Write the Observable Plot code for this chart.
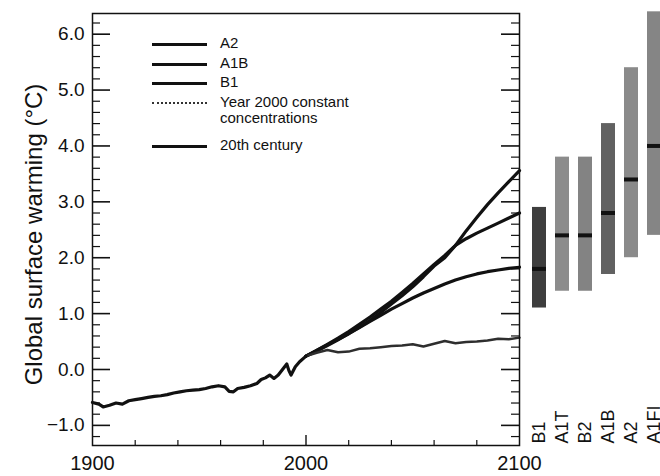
<!DOCTYPE html>
<html>
<head>
<meta charset="utf-8">
<script src="https://cdn.jsdelivr.net/npm/d3@7"></script>
<script src="https://cdn.jsdelivr.net/npm/@observablehq/plot@0.6"></script>
<style>
  html, body { margin: 0; padding: 0; background: #fff; }
  #wrap { position: relative; width: 660px; height: 476px; overflow: hidden; background: #fff;
          font-family: "Liberation Sans", Arial, sans-serif; color: #111; }
  #wrap svg { position: absolute; top: 0; }
  .leg { position: absolute; font-size: 15px; line-height: 16px; color: #111; }
  .sw { position: absolute; width: 55px; height: 0; border-top: 3px solid #111; }
</style>
</head>
<body>
<div id="wrap"></div>
<script>
// ---------- data ----------
const years20 = [1900,1903,1905,1908,1911,1914,1917,1920,1923,1926,1929,1932,1935,1938,1941,1944,1947,1950,1953,1956,1959,1962,1964,1966,1968,1971,1974,1977,1979,1981,1983,1985,1987,1989,1991,1992,1993,1995,1997,2000];
const temp20  = [-0.59,-0.62,-0.67,-0.64,-0.60,-0.62,-0.56,-0.54,-0.52,-0.50,-0.48,-0.47,-0.45,-0.42,-0.40,-0.38,-0.37,-0.36,-0.34,-0.31,-0.29,-0.31,-0.39,-0.40,-0.34,-0.32,-0.29,-0.25,-0.18,-0.15,-0.10,-0.16,-0.10,0.00,0.10,-0.02,-0.10,0.05,0.14,0.24];

const yearsScen = [2000,2005,2010,2015,2020,2025,2030,2035,2040,2045,2050,2055,2060,2065,2070,2075,2080,2085,2090,2095,2100];
const a2    = [0.24,0.33,0.43,0.53,0.64,0.76,0.88,1.02,1.17,1.32,1.48,1.66,1.85,2.00,2.22,2.48,2.72,2.95,3.16,3.36,3.56];
const a1b   = [0.24,0.34,0.45,0.56,0.68,0.81,0.94,1.08,1.22,1.38,1.54,1.71,1.88,2.04,2.22,2.34,2.44,2.53,2.62,2.71,2.80];
const b1    = [0.24,0.34,0.44,0.54,0.64,0.75,0.86,0.97,1.08,1.18,1.28,1.37,1.45,1.53,1.60,1.66,1.71,1.75,1.78,1.81,1.83];
const constC= [0.24,0.30,0.35,0.31,0.32,0.37,0.38,0.40,0.42,0.43,0.45,0.41,0.46,0.51,0.47,0.49,0.50,0.52,0.55,0.54,0.57];

const barNames = ["B1","A1T","B2","A1B","A2","A1FI"];
const barLow   = [1.1,1.4,1.4,1.7,2.0,2.4];
const barHigh  = [2.9,3.8,3.8,4.4,5.4,6.4];
const barBest  = [1.8,2.4,2.4,2.8,3.4,4.0];

const yMajor = [-1,0,1,2,3,4,5,6];
const yMinor = [-1.2,-0.8,-0.6,-0.4,-0.2,0.2,0.4,0.6,0.8,1.2,1.4,1.6,1.8,2.2,2.4,2.6,2.8,3.2,3.4,3.6,3.8,4.2,4.4,4.6,4.8,5.2,5.4,5.6,5.8,6.2];
const xLabels = [1900,2000,2100];
const xMinor = [1920,1940,1960,1980,2020,2040,2060,2080];
const yTitle = "Global surface warming (°C)";

const legendLabels = ["A2","A1B","B1","Year 2000 constant<br>concentrations","20th century"];

// ---------- tables ----------
const hist = years20.map((y,i) => ({year: y, t: temp20[i]}));
const scen = (arr) => yearsScen.map((y,i) => ({year: y, t: arr[i]}));
const bars = barNames.map((n,i) => ({name: n, lo: barLow[i], hi: barHigh[i], best: barBest[i]}));

const W = 520, H = 476, mL = 92, mR = 1, mT = 13, mB = 31;
const innerW = W - mL - mR;
const yDomain = [-1.36, 6.37];
const font = "Liberation Sans, Arial, sans-serif";

const main = Plot.plot({
  width: W, height: H,
  marginLeft: mL, marginRight: mR, marginTop: mT, marginBottom: mB,
  x: {domain: [1900, 2100]},
  y: {domain: yDomain},
  style: {background: "transparent", overflow: "visible", fontFamily: font, color: "#111"},
  marks: [
    Plot.line(scen(b1),  {x: "year", y: "t", stroke: "#111", strokeWidth: 3.2}),
    Plot.line(scen(a1b), {x: "year", y: "t", stroke: "#111", strokeWidth: 3.2}),
    Plot.line(scen(a2),  {x: "year", y: "t", stroke: "#111", strokeWidth: 3.2}),
    Plot.line(scen(constC), {x: "year", y: "t", stroke: "#2e2e2e", strokeWidth: 2.5}),
    Plot.line(hist, {x: "year", y: "t", stroke: "#111", strokeWidth: 3.2}),
    // inward ticks
    Plot.ruleY(yMajor, {insetRight: innerW - 18, stroke: "#111", strokeWidth: 1.6}),
    Plot.ruleY(yMinor, {insetRight: innerW - 8, stroke: "#111", strokeWidth: 1.2}),
    Plot.ruleY(yMajor, {insetLeft: innerW - 18, stroke: "#111", strokeWidth: 1.6}),
    Plot.ruleY(yMinor, {insetLeft: innerW - 8, stroke: "#111", strokeWidth: 1.2}),
    Plot.ruleX([2000], {insetTop: (H - mT - mB) - 10, stroke: "#111", strokeWidth: 1.4}),
    Plot.ruleX(xMinor, {insetTop: (H - mT - mB) - 5, stroke: "#111", strokeWidth: 1.2}),
    Plot.frame({stroke: "#111", strokeWidth: 1.5}),
    Plot.axisY({ticks: yMajor, tickSize: 0, tickPadding: 8, tickFormat: d3.format(".1f"), fontSize: 19, label: null}),
    Plot.axisX({ticks: xLabels, tickSize: 0, tickPadding: 10, tickFormat: d => String(d), fontSize: 20, label: null}),
    Plot.text([yTitle], {text: d => d, frameAnchor: "left", textAnchor: "middle", rotate: -90, dx: -58, dy: 5, fontSize: 24, fill: "#111"})
  ]
});
main.style.left = "0px";

const side = Plot.plot({
  width: 146, height: H,
  marginLeft: 6, marginRight: 0, marginTop: mT, marginBottom: mB,
  x: {domain: barNames, paddingInner: 0.4, paddingOuter: 0.2, axis: null},
  y: {domain: yDomain, axis: null},
  color: {domain: barNames, range: ["#3e3e3e", "#8c8c8c", "#838383", "#616161", "#8a8a8a", "#858585"]},
  style: {background: "transparent", overflow: "visible", fontFamily: font, color: "#111"},
  marks: [
    Plot.barY(bars, {x: "name", y1: "lo", y2: "hi", fill: "name"}),
    Plot.tickY(bars, {x: "name", y: "best", stroke: "#111", strokeWidth: 4}),
    Plot.text(bars, {x: "name", text: "name", frameAnchor: "bottom", rotate: -90, textAnchor: "start", lineAnchor: "middle", dy: -2, fontSize: 18, fill: "#111"})
  ]
});
side.style.left = "520px";

const wrap = document.getElementById("wrap");
wrap.appendChild(main);
wrap.appendChild(side);

// legend
const rowsY = [44, 64, 83, 103, 146];
legendLabels.forEach((lab, i) => {
  const sw = document.createElement("div");
  sw.className = "sw";
  sw.style.left = "152px";
  sw.style.top = (rowsY[i] - 1.5) + "px";
  if (i === 3) { sw.style.borderTop = "2px dotted #333"; sw.style.top = (rowsY[i] - 1) + "px"; }
  wrap.appendChild(sw);
  const t = document.createElement("div");
  t.className = "leg";
  t.style.left = "220px";
  t.style.top = (rowsY[i] - 9) + "px";
  t.innerHTML = lab;
  wrap.appendChild(t);
});
</script>
</body>
</html>
